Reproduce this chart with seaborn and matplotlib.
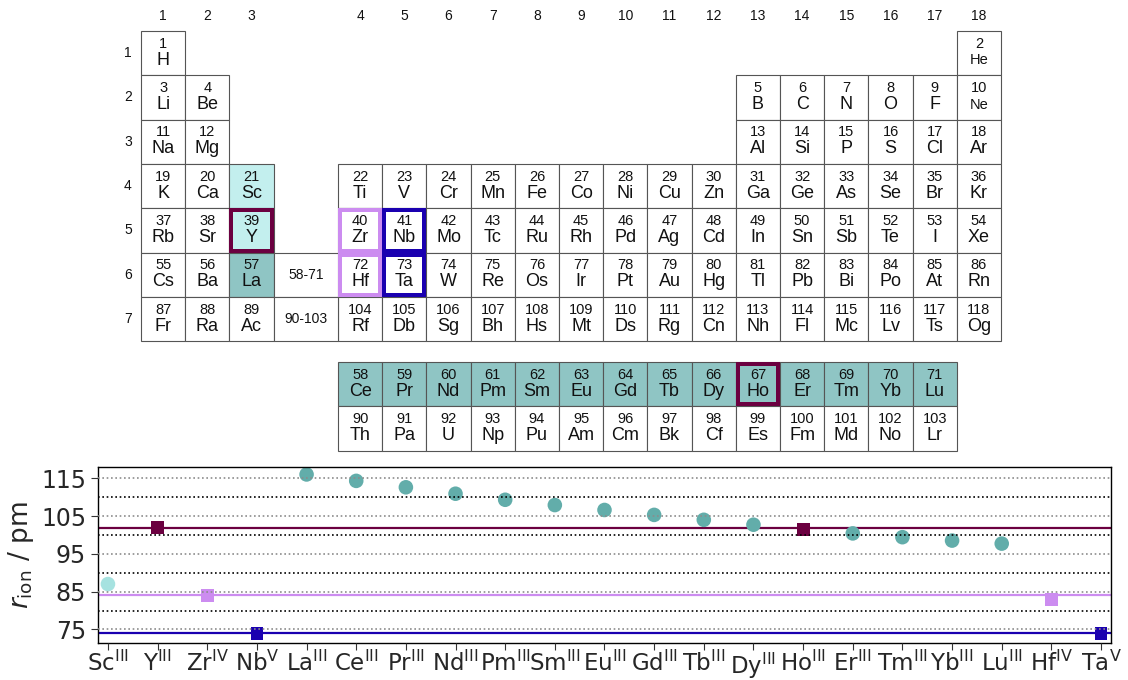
import matplotlib
matplotlib.use("Agg")
import matplotlib.pyplot as plt
from matplotlib.patches import Rectangle
import numpy as np
import pandas as pd
import seaborn as sns

# ---------------- data ----------------
symbols = [
    "H", "He", "Li", "Be", "B", "C", "N", "O", "F", "Ne",
    "Na", "Mg", "Al", "Si", "P", "S", "Cl", "Ar", "K", "Ca",
    "Sc", "Ti", "V", "Cr", "Mn", "Fe", "Co", "Ni", "Cu", "Zn",
    "Ga", "Ge", "As", "Se", "Br", "Kr", "Rb", "Sr", "Y", "Zr",
    "Nb", "Mo", "Tc", "Ru", "Rh", "Pd", "Ag", "Cd", "In", "Sn",
    "Sb", "Te", "I", "Xe", "Cs", "Ba", "La", "Ce", "Pr", "Nd",
    "Pm", "Sm", "Eu", "Gd", "Tb", "Dy", "Ho", "Er", "Tm", "Yb",
    "Lu", "Hf", "Ta", "W", "Re", "Os", "Ir", "Pt", "Au", "Hg",
    "Tl", "Pb", "Bi", "Po", "At", "Rn", "Fr", "Ra", "Ac", "Th",
    "Pa", "U", "Np", "Pu", "Am", "Cm", "Bk", "Cf", "Es", "Fm",
    "Md", "No", "Lr", "Rf", "Db", "Sg", "Bh", "Hs", "Mt", "Ds",
    "Rg", "Cn", "Nh", "Fl", "Mc", "Lv", "Ts", "Og",
]
groups = list(range(1, 19))
periods = list(range(1, 8))
small_symbols = ["He", "Ne"]

ions = ["Sc", "Y", "Zr", "Nb", "La", "Ce", "Pr", "Nd", "Pm", "Sm", "Eu",
        "Gd", "Tb", "Dy", "Ho", "Er", "Tm", "Yb", "Lu", "Hf", "Ta"]
oxidation = ["III", "III", "IV", "V", "III", "III", "III", "III", "III", "III", "III",
             "III", "III", "III", "III", "III", "III", "III", "III", "IV", "V"]
r_ion = [87.0, 101.9, 84.0, 74.0, 116.0, 114.3, 112.6, 110.9, 109.3, 107.9, 106.6,
         105.3, 104.0, 102.7, 101.5, 100.4, 99.4, 98.5, 97.7, 83.0, 74.0]

# colour classes
C_LIGHT = "#c3efee"
C_TEAL = "#8fc5c4"
C_MAROON = "#6b0040"
C_VIOLET = "#cc8cf0"
C_BLUE = "#1a00b0"
C_SC = "#a6e2e0"
C_LN = "#62adaa"

light_fill = ["Sc", "Y"]
teal_fill = ["La"] + symbols[57:71]
frame_color = {"Y": C_MAROON, "Ho": C_MAROON, "Zr": C_VIOLET, "Hf": C_VIOLET,
               "Nb": C_BLUE, "Ta": C_BLUE}
marker_color = {"Sc": C_SC, "Y": C_MAROON, "Ho": C_MAROON, "Zr": C_VIOLET,
                "Hf": C_VIOLET, "Nb": C_BLUE, "Ta": C_BLUE}
square_ions = ["Y", "Zr", "Nb", "Ho", "Hf", "Ta"]
reference_ions = ["Y", "Zr", "Nb"]

# ---------------- figure ----------------
sns.set_theme(style="white")
plt.rcParams["font.family"] = ["DejaVu Sans"]
fig = plt.figure(figsize=(11.28, 6.8), dpi=100)

# periodic table drawn in pixel coordinates
ax_t = fig.add_axes([0, 0, 1, 1])
ax_t.set_xlim(0, 1128)
ax_t.set_ylim(680, 0)
ax_t.axis("off")

CW, CH = 44.2, 44.3
X_G1, X_G4, Y_P1, Y_F = 141.0, 338.0, 31.0, 362.0
TFONT = "Liberation Sans"


def col_left(g):
    return X_G1 + (g - 1) * CW if g <= 3 else X_G4 + (g - 4) * CW


def row_top(p):
    return Y_P1 + (p - 1) * CH


def place(z):
    """Return (left, top) of the cell for atomic number z."""
    bounds = [(1, 2, 1), (3, 10, 2), (11, 18, 3), (19, 36, 4), (37, 54, 5),
              (55, 86, 6), (87, 118, 7)]
    for lo, hi, p in bounds:
        if lo <= z <= hi:
            break
    k = z - lo
    if p == 1:
        g = 1 if z == 1 else 18
    elif p in (2, 3):
        g = k + 1 if k < 2 else k + 11
    elif p in (4, 5):
        g = k + 1
    else:
        if k < 3:
            g = k + 1
        elif k < 17:
            fr = 0 if p == 6 else 1
            return X_G4 + (k - 3) * CW, Y_F + fr * CH
        else:
            g = k - 13
    return col_left(g), row_top(p)


def draw_cell(x, y, num, sym):
    fc = C_LIGHT if sym in light_fill else (C_TEAL if sym in teal_fill else "white")
    ax_t.add_patch(Rectangle((x, y), CW, CH, facecolor=fc, edgecolor="#555555",
                             linewidth=0.8, zorder=1))
    if sym in frame_color:
        lw_px = 4.0
        ax_t.add_patch(Rectangle((x + lw_px / 2, y + lw_px / 2), CW - lw_px, CH - lw_px,
                                 facecolor="none", edgecolor=frame_color[sym],
                                 linewidth=lw_px * 0.72, zorder=3))
    ax_t.text(x + CW / 2, y + CH * 0.29, str(num), ha="center", va="center",
              fontsize=10.5, family=TFONT, color="#111111", zorder=4)
    ax_t.text(x + CW / 2, y + CH * 0.66, sym, ha="center", va="center",
              fontsize=10.5 if sym in small_symbols else 13, family=TFONT,
              color="#111111", zorder=4)


for z, sym in enumerate(symbols, start=1):
    x, y = place(z)
    draw_cell(x, y, z, sym)

# placeholder cells for the f-block
for p, txt in [(6, "58-71"), (7, "90-103")]:
    x0, y0 = col_left(3) + CW, row_top(p)
    ax_t.add_patch(Rectangle((x0, y0), X_G4 - x0, CH, facecolor="white",
                             edgecolor="#555555", linewidth=0.8, zorder=1))
    ax_t.text((x0 + X_G4) / 2, y0 + CH / 2, txt, ha="center", va="center",
              fontsize=10, family=TFONT, color="#111111")

for g in groups:
    ax_t.text(col_left(g) + CW / 2, 16, str(g), ha="center", va="center",
              fontsize=10, family=TFONT, color="#111111")
for p in periods:
    ax_t.text(128, row_top(p) + CH / 2, str(p), ha="center", va="center",
              fontsize=10, family=TFONT, color="#111111")

# ---------------- ionic radii ----------------
df = pd.DataFrame({"ion": ions, "ox": oxidation, "r": r_ion})
df["pos"] = np.arange(len(df))
df["color"] = [marker_color.get(i, C_LN) for i in ions]
df["marker"] = ["s" if i in square_ions else "o" for i in ions]

ax = fig.add_axes([0.0869, 0.0544, 0.898, 0.259])
for ion in reference_ions:
    val = df.loc[df["ion"] == ion, "r"].iloc[0]
    ax.axhline(val, color=marker_color[ion], linewidth=1.6, zorder=1)

circ = df[df["marker"] == "o"]
sq = df[df["marker"] == "s"]
sns.scatterplot(data=circ, x="pos", y="r", hue="ion",
                palette=dict(zip(circ["ion"], circ["color"])), marker="o",
                s=110, linewidth=0, legend=False, ax=ax, zorder=2)
sns.scatterplot(data=sq, x="pos", y="r", hue="ion",
                palette=dict(zip(sq["ion"], sq["color"])), marker="s",
                s=85, linewidth=0, legend=False, ax=ax, zorder=2)

ax.set_xlim(-0.2, 20.2)
ax.set_ylim(71.4, 118)
ax.set_yticks([75, 85, 95, 105, 115])
ax.set_yticks([80, 90, 100, 110], minor=True)
ax.set_xticks(df["pos"])
ax.set_xticklabels([rf"{i}$^{{\mathrm{{{o}}}}}$" for i, o in zip(ions, oxidation)])
ax.tick_params(axis="y", which="major", labelsize=17, length=5, width=0.8,
               color="#333333", direction="out", left=True)
ax.tick_params(axis="x", which="major", labelsize=16.5, length=5, width=0.8,
               color="#333333", direction="out", bottom=True, pad=0.5)
ax.tick_params(axis="y", which="minor", length=0)
ax.grid(True, which="major", axis="y", color="#8c8c8c", linestyle=(0, (1, 1.6)),
        linewidth=1.2)
ax.grid(True, which="minor", axis="y", color="black", linestyle=(0, (1, 1.6)),
        linewidth=1.2)
ax.set_axisbelow(False)
ax.set_xlabel("")
ax.set_ylabel(r"$r_{\mathrm{ion}}$ / pm", fontsize=19, labelpad=4)
for s in ax.spines.values():
    s.set_color("black")
    s.set_linewidth(1.0)

fig.savefig("out.png", dpi=100)
